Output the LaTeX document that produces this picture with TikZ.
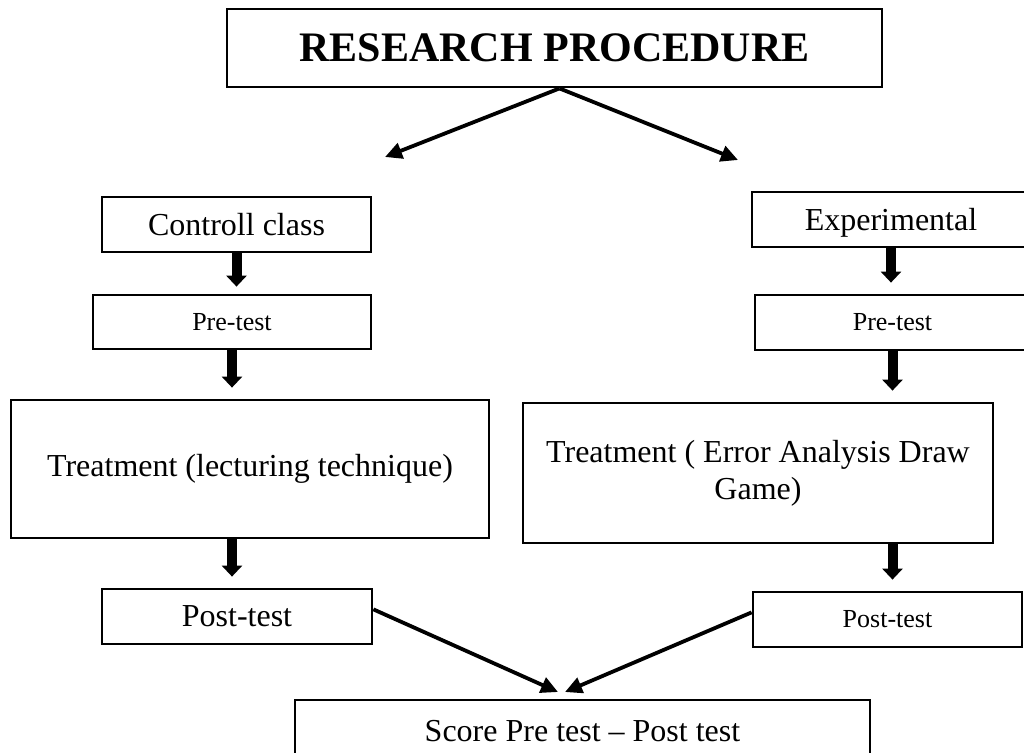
\documentclass[tikz,border=0pt]{standalone}
\usepackage{fontspec}
\setmainfont{Liberation Serif}
\usetikzlibrary{arrows.meta, positioning}

\begin{document}
\begin{tikzpicture}[x=0.5pt,y=-0.5pt,
  box/.style={draw,line width=1.4pt,inner sep=0pt,align=center},
  bigtext/.style={font=\fontsize{16}{18.5}\selectfont},
  smalltext/.style={font=\fontsize{13}{15}\selectfont},
  thinarrow/.style={line width=1.9pt,-{Triangle[length=8.5pt,width=8pt]}},
  blockarrow/.style={line width=5pt,-{Triangle[length=5.5pt,width=10pt]},shorten >=5.5pt}]
\useasboundingbox (0,0) rectangle (1024,752);

\node[box,font=\bfseries\fontsize{21}{25}\selectfont,minimum width=327.5pt,minimum height=39pt] (title) at (554.5,48) {RESEARCH PROCEDURE};

% control group
\node[box,bigtext,minimum width=134.5pt,minimum height=27.5pt] (ctrl) at (236.5,224.5) {Controll class};
\node[box,smalltext,minimum width=139pt,minimum height=27pt] (prel) at (232,322) {Pre-test};
\node[box,bigtext,minimum width=239pt,minimum height=69pt] (treatl) at (250,469) {Treatment (lecturing technique)};
\node[box,bigtext,minimum width=135pt,minimum height=27.5pt] (postl) at (237,616.5) {Post-test};

% experimental group
\node[box,bigtext,minimum width=139pt,minimum height=27.5pt,text depth=0pt] (exp) at (891,219.5) {Experimental};
\node[box,smalltext,minimum width=137.5pt,minimum height=27.5pt] (prer) at (892.5,322.5) {Pre-test};
\node[box,bigtext,minimum width=235pt,minimum height=70pt] (treatr) at (758,473) {Treatment ( Error Analysis Draw\\ Game)};
\node[box,smalltext,minimum width=134.5pt,minimum height=27.5pt] (postr) at (887.5,619.5) {Post-test};

\node[box,bigtext,minimum width=287.5pt,minimum height=31pt] (score) at (582.5,731) {Score Pre test -- Post test};

\coordinate (ctrltip) at (385,157);
\coordinate (exptip) at (738,160);
\coordinate (meetl) at (558,692);
\coordinate (meetr) at (565,692);

\draw[thinarrow] ([xshift=2.5pt]title.south) -- (ctrltip);
\draw[thinarrow] ([xshift=2.5pt]title.south) -- (exptip);

\draw[blockarrow,shorten >=3.5pt] (ctrl.south) -- (ctrl.south |- prel.north);
\draw[blockarrow] (prel.south) -- (prel.south |- treatl.north);
\draw[blockarrow] (prel.south |- treatl.south) -- (prel.south |- postl.north);

\draw[blockarrow] (exp.south) -- (exp.south |- prer.north);
\draw[blockarrow] (prer.south) -- (prer.south |- treatr.north);
\draw[blockarrow] (prer.south |- treatr.south) -- (prer.south |- postr.north);

\draw[thinarrow] (postl.3) -- (meetl);
\draw[thinarrow] (postr.177) -- (meetr);
\end{tikzpicture}
\end{document}
